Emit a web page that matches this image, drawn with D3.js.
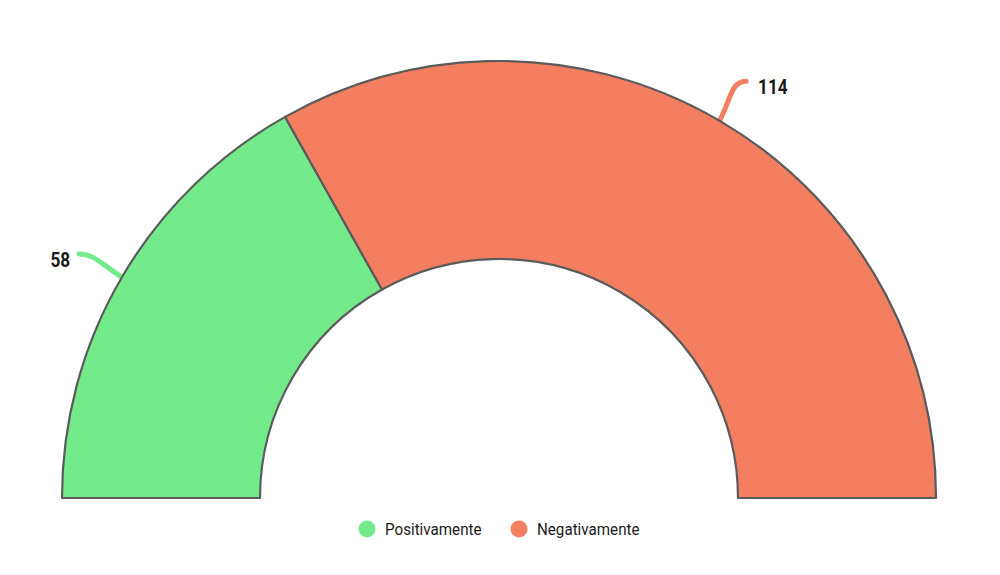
<!DOCTYPE html>
<html><head><meta charset="utf-8">
<script src="https://cdn.jsdelivr.net/npm/d3@7"></script>
<style>body{margin:0;background:#fff}svg{display:block}</style>
</head><body>
<script>
const categories = ["Positivamente", "Negativamente"];
const values = [58, 114];
const colors = ["#74EB8A", "#F37E60"];

const W = 1000, H = 575;
const cx = 499, cy = 498, rOuter = 437, rInner = 239, rLabel = 483;
const svg = d3.select("body").append("svg").attr("width", W).attr("height", H);
const g = svg.append("g").attr("transform", `translate(${cx},${cy})`);

const pie = d3.pie().sort(null).startAngle(-Math.PI/2).endAngle(Math.PI/2);
const arcs = pie(values);
const arc = d3.arc().innerRadius(rInner).outerRadius(rOuter);

const pt = (a, r) => [Math.sin(a)*r, -Math.cos(a)*r];

// connectors (behind slices)
arcs.forEach((d, i) => {
  const mid = (d.startAngle + d.endAngle)/2;
  const s = pt(mid, rOuter - 6);
  const e0 = pt(mid, rLabel);
  const sign = Math.sin(mid) < 0 ? -1 : 1;
  const e = [e0[0] + sign*3, e0[1]];
  const c1 = pt(mid, rOuter + 22);
  const c2 = [e[0] - sign*16, e[1]];
  g.append("path")
    .attr("d", `M${s[0]},${s[1]} C${c1[0]},${c1[1]} ${c2[0]},${c2[1]} ${e[0]},${e[1]}`)
    .attr("fill", "none").attr("stroke", colors[i]).attr("stroke-width", 5)
    .attr("stroke-linecap", "round");
  g.append("text")
    .attr("transform", `translate(${e[0] + sign*(sign < 0 ? 9 : 12)},${e[1] + 13}) scale(0.86,1)`)
    .attr("text-anchor", sign < 0 ? "end" : "start")
    .attr("font-family", "Roboto, sans-serif").attr("font-weight", "bold")
    .attr("font-size", 20).attr("fill", "#1a1a1a")
    .text(values[i]);
});

g.selectAll("path.slice").data(arcs).enter().append("path")
  .attr("class", "slice")
  .attr("d", arc)
  .attr("fill", (d, i) => colors[i])
  .attr("stroke", "#5b5b5b").attr("stroke-width", 2.2)
  .attr("stroke-linejoin", "round");

// legend
const legend = svg.append("g");
const items = [{x: 367}, {x: 519}];
categories.forEach((c, i) => {
  const lg = legend.append("g").attr("transform", `translate(${items[i].x},529)`);
  lg.append("circle").attr("r", 8.5).attr("fill", colors[i]);
  lg.append("text").attr("transform", "translate(18,6) scale(0.92,1)")
    .attr("font-family", "Roboto, sans-serif").attr("font-size", 16.5)
    .attr("fill", "#1a1a1a").text(c);
});
</script>
</body></html>
